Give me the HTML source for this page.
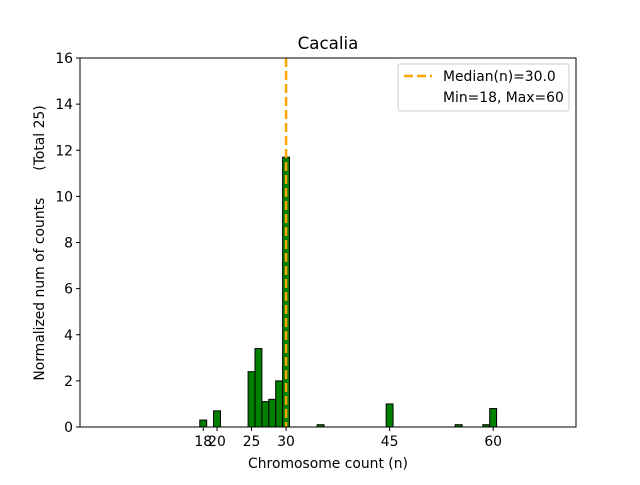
<!DOCTYPE html>
<html><head><meta charset="utf-8"><style>
body{margin:0;background:#fff;font-family:"Liberation Sans","DejaVu Sans",sans-serif;}
</style></head><body>
<svg width="640" height="480" xmlns="http://www.w3.org/2000/svg" font-family="DejaVu Sans, Liberation Sans, sans-serif">
<rect width="640" height="480" fill="#fff"/>
<text x="328" y="49" font-size="16.7" text-anchor="middle">Cacalia</text>
<g id="bars"></g>
<g id="axes"></g>
<line id="median" stroke="#ffa500" stroke-width="2.5" stroke-dasharray="9,4"/>
<rect x="80" y="58" width="496" height="369" fill="none" stroke="#000" stroke-width="1"/>
<text x="328" y="468" font-size="13.9" text-anchor="middle">Chromosome count (n)</text>
<text transform="translate(44,243) rotate(-90)" font-size="13.9" text-anchor="middle"><tspan>Normalized num of counts</tspan><tspan dx="27">(Total 25)</tspan></text>
<g>
<rect x="398" y="64" width="171" height="47" rx="2" fill="#fff" stroke="#ccc"/>
<line x1="404" y1="76" x2="432" y2="76" stroke="#ffa500" stroke-width="2.5" stroke-dasharray="9,4"/>
<text x="443" y="81" font-size="13.9">Median(n)=30.0</text>
<text x="443" y="102" font-size="13.9">Min=18, Max=60</text>
</g>
</svg>
<script>
const categories=[18,20,25,26,27,28,29,30,35,45,55,59,60];
const values=[0.3,0.7,2.4,3.4,1.1,1.2,2.0,11.7,0.1,1.0,0.1,0.1,0.8];
const xTicks=[18,20,25,30,45,60];
const yTicks=[0,2,4,6,8,10,12,14,16];
const median=30;
const X0=80,X1=576,Y0=427,Y1=58,XMIN=0.15,XMAX=72,YMAX=16;
const xs=v=>X0+(v-XMIN)/(XMAX-XMIN)*(X1-X0);
const ys=v=>Y0-v/YMAX*(Y0-Y1);
const NS="http://www.w3.org/2000/svg";
const bars=document.getElementById('bars');
categories.forEach((c,i)=>{
 const r=document.createElementNS(NS,'rect');
 
 
 const x=xs(c-0.5),w=xs(c+0.5)-x;
 r.setAttribute('x',x);r.setAttribute('width',w);
 r.setAttribute('y',ys(values[i]));r.setAttribute('height',Y0-ys(values[i]));
 r.setAttribute('fill','#008000');r.setAttribute('stroke','#000');r.setAttribute('stroke-width','1');
 bars.appendChild(r);
});
const ax=document.getElementById('axes');
xTicks.forEach(t=>{
 const l=document.createElementNS(NS,'line');
 
 
 l.setAttribute('x1',xs(t));l.setAttribute('x2',xs(t));l.setAttribute('y1',Y0);l.setAttribute('y2',Y0+4);l.setAttribute('stroke','#000');
 ax.appendChild(l);
 const tx=document.createElementNS(NS,'text');
 
 
 tx.setAttribute('x',xs(t));tx.setAttribute('y',Y0+19);tx.setAttribute('font-size','13.9');tx.setAttribute('text-anchor','middle');
 tx.textContent=t;ax.appendChild(tx);
});
yTicks.forEach(t=>{
 const l=document.createElementNS(NS,'line');
 
 
 l.setAttribute('x1',X0-4);l.setAttribute('x2',X0);l.setAttribute('y1',ys(t));l.setAttribute('y2',ys(t));l.setAttribute('stroke','#000');
 ax.appendChild(l);
 const tx=document.createElementNS(NS,'text');
 
 
 tx.setAttribute('x',X0-7);tx.setAttribute('y',ys(t)+5);tx.setAttribute('font-size','13.9');tx.setAttribute('text-anchor','end');
 tx.textContent=t;ax.appendChild(tx);
});
const m=document.getElementById('median');
m.setAttribute('x1',xs(median));m.setAttribute('x2',xs(median));m.setAttribute('y1',Y1);m.setAttribute('y2',Y0);
</script>
</body></html>
